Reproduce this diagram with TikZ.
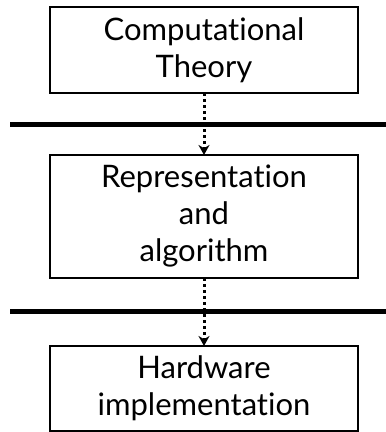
\documentclass[tikz,border=0pt]{standalone}
\usepackage{fontspec}
\setmainfont{Lato}[Ligatures={NoCommon}]
\usetikzlibrary{arrows.meta}

\begin{document}
\begin{tikzpicture}[x=1pt, y=-1pt,
    every node/.style={draw, line width=2pt, minimum width=308pt, align=center, inner sep=0pt, outer sep=0pt, font=\fontsize{31}{37}\selectfont},
    level/.style={line width=5pt},
    flow/.style={line width=3pt, dash pattern=on 3pt off 3pt, -{Stealth[length=10pt, width=11pt]}}]
\useasboundingbox (0,0) rectangle (386,432);

\node[minimum height=86pt] (theory) at (204,50) {Computational\\Theory};
\node[minimum height=123pt] (algo) at (204,216.5) {Representation\\and\\algorithm};
\node[minimum height=85pt] (hard) at (204,388.5) {Hardware\\implementation};

\draw[level] (10,124) -- (386,124);
\draw[level] (10,311) -- (386,311);

\draw[flow] (theory) -- (algo);
\draw[flow] (algo) -- (hard);
\end{tikzpicture}
\end{document}
